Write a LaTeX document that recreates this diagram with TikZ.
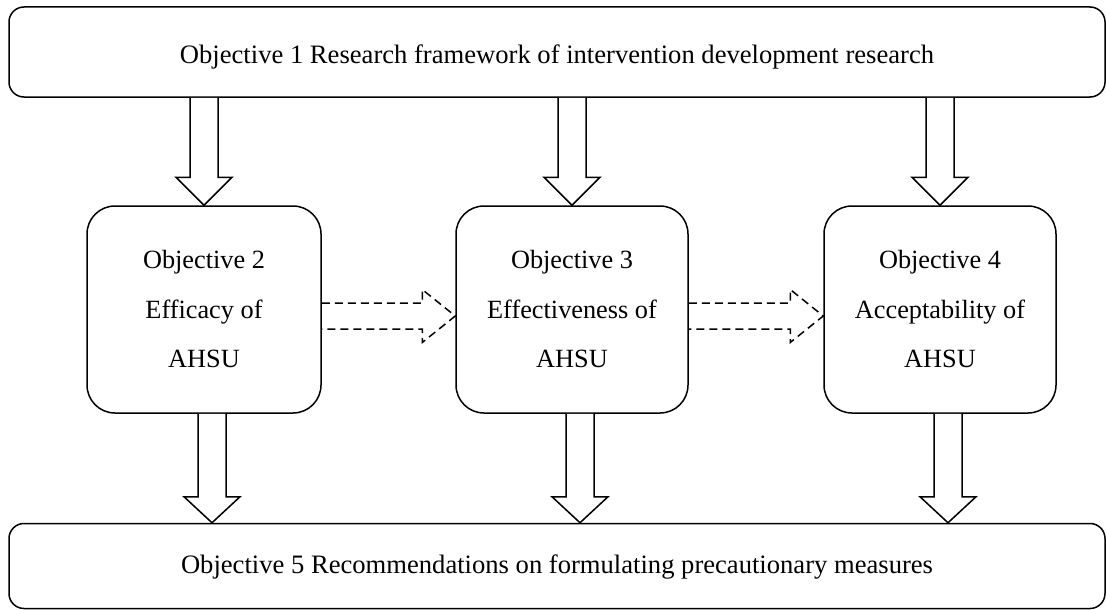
\documentclass[tikz,border=0pt]{standalone}
\usepackage{fontspec}
\setmainfont{Liberation Serif}
\usetikzlibrary{calc}
\tikzset{
  wide/.style={draw, line width=1.5pt, rounded corners=15pt, minimum width=1096pt, inner sep=0pt},
  widetext/.style={font=\fontsize{26.6}{32}\selectfont, inner sep=0pt},
  objbox/.style={draw, line width=1.5pt, rounded corners=28pt, minimum height=207pt, inner sep=0pt, align=center, font=\fontsize{26.3}{49.5}\selectfont},
  barrow/.style={draw, line width=1.5pt, line join=miter, fill=white},
  dasharrow/.style={draw, line width=1.5pt, dash pattern=on 8pt off 5pt, line join=miter}
}
\newcommand\vblockarrow[3]{%
  \draw[barrow] ($(#1)+(-14,0)$) -- ($(#2)+(-14,-#3)$) -- ($(#2)+(-28,-#3)$) -- (#2) -- ($(#2)+(28,-#3)$) -- ($(#2)+(14,-#3)$) -- ($(#1)+(14,0)$);}
\newcommand\hdasharrow[2]{%
  \draw[dasharrow] ($(#1)+(0,-13)$) -- ($(#2)+(-33,-13)$) -- ($(#2)+(-33,-26.5)$) -- (#2) -- ($(#2)+(-33,26.5)$) -- ($(#2)+(-33,13)$) -- ($(#1)+(0,13)$);}
\begin{document}
\begin{tikzpicture}[x=1pt, y=-1pt]
\useasboundingbox (0,0) rectangle (1106,610);
\node[wide, minimum height=90pt, label={[widetext, yshift=-4.5pt]center:Objective 1 Research framework of intervention development research}] (o1) at (557,52) {};
\node[wide, minimum height=85pt, label={[widetext, yshift=-1.5pt]center:Objective 5 Recommendations on formulating precautionary measures}] (o5) at (557,566) {};
\node[objbox, minimum width=234pt] (b2) at (204,309.5) {Objective 2\\Efficacy of\\AHSU};
\node[objbox, minimum width=232pt] (b3) at (572,309.5) {Objective 3\\Effectiveness of\\AHSU};
\node[objbox, minimum width=232pt] (b4) at (940,309.5) {Objective 4\\Acceptability of\\AHSU};
% top arrows
\foreach \b in {b2,b3,b4}{
  \coordinate (ts-\b) at (o1.south -| \b.north);
  \vblockarrow{ts-\b}{\b.north}{28}
}
% bottom arrows
\foreach \b in {b2,b3,b4}{
  \coordinate (bs-\b) at ($(\b.south)+(8,0)$);
  \coordinate (be-\b) at (o5.north -| bs-\b);
  \vblockarrow{bs-\b}{be-\b}{26}
}
% dashed arrows
\coordinate (d1s) at ($(b2.east)+(0,6.5)$);
\coordinate (d1e) at (b3.west |- d1s);
\hdasharrow{d1s}{d1e}
\coordinate (d2s) at ($(b3.east)+(0,6.5)$);
\coordinate (d2e) at (b4.west |- d2s);
\hdasharrow{d2s}{d2e}
\end{tikzpicture}
\end{document}
